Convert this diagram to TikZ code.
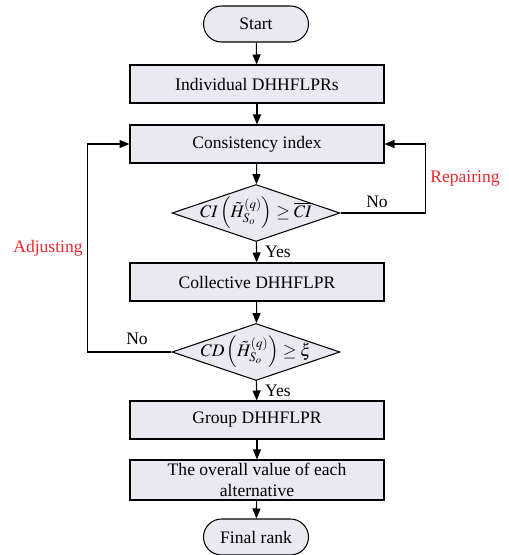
\documentclass[tikz,border=0pt]{standalone}
\usepackage{amsmath,amssymb}
\usepackage{mathptmx}
\usepackage{fontspec}
\setmainfont{Liberation Serif}
\usepackage{tikz}
\usetikzlibrary{arrows.meta,shapes.geometric}
\definecolor{boxfill}{HTML}{EAE8F0}
\definecolor{redlbl}{HTML}{F0282D}
\tikzset{
  ar/.style={-{Triangle[length=2mm,width=1.6mm]},line width=0.6pt},
  box/.style={draw,line width=0.6pt,fill=boxfill,minimum width=5.08cm,minimum height=0.76cm,align=center,inner sep=1pt},
  term/.style={draw,line width=0.6pt,fill=boxfill,rounded corners=0.36cm,minimum width=2.1cm,minimum height=0.72cm},
  dec/.style={draw,line width=0.6pt,fill=boxfill,diamond,inner sep=0pt,minimum width=3.36cm,minimum height=1.14cm},
  lbl/.style={inner sep=1pt}
}

\begin{document}
\begin{tikzpicture}[x=0.02cm,y=-0.02cm,font=\rmfamily\fontsize{10}{12}\selectfont]
\useasboundingbox (0,0) rectangle (508,555);
\node[term] (start) at (256,24) {Start};
\node[box] (indiv) at (257,84) {Individual DHHFLPRs};
\node[box] (ci) at (257,144) {Consistency index};
\node[dec] (d1) at (256,213) {\makebox[0pt]{$CI\left(\tilde{H}^{(q)}_{S_o}\right)\geq\overline{CI}$}};
\node[box] (coll) at (257,282) {Collective DHHFLPR};
\node[dec] (d2) at (256,352) {\makebox[0pt]{$CD\left(\tilde{H}^{(q)}_{S_o}\right)\geq\xi$}};
\node[box] (group) at (257,420) {Group DHHFLPR};
\node[box,minimum height=0.8cm] (overall) at (257,480) {The overall value of each\\alternative};
\node[term] (final) at (256,537) {Final rank};
% main flow
\draw[ar] (start) -- (indiv);
\draw[ar] (indiv) -- (ci);
\draw[ar] (ci) -- (d1);
\draw[ar] (d1) -- (coll);
\draw[ar] (coll) -- (d2);
\draw[ar] (d2) -- (group);
\draw[ar] (group) -- (overall);
\draw[ar] (overall) -- (final);
% feedback loops
\draw[ar] (d1.east) -- ++(85,0) |- (ci.east);
\draw[ar] (d2.west) -- ++(-84,0) |- (ci.west);
\node[lbl] (no1) at (377,202) {No};
\node[lbl] (no2) at (137,339) {No};
\node[lbl,anchor=west] (yes1) at (263,252) {Yes};
\node[lbl,anchor=west] (yes2) at (263,391) {Yes};
\node[lbl,text=redlbl] (rep) at (465,179) {Repairing};
\node[lbl,text=redlbl] (adj) at (48,248) {Adjusting};
\end{tikzpicture}
\end{document}
